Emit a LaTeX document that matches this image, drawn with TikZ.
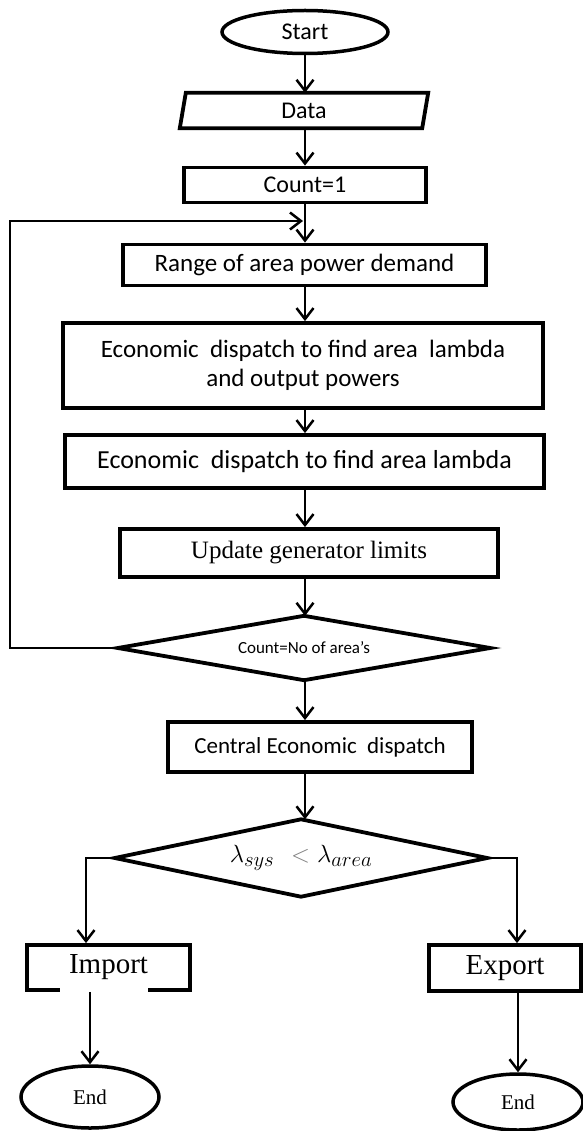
\documentclass[tikz,border=0pt]{standalone}
\usepackage{fontspec}
\setmainfont{Carlito}
\newfontfamily\tnr{Liberation Serif}
\usetikzlibrary{arrows.meta,shapes.geometric}
\begin{document}
\begin{tikzpicture}[x=1pt,y=-1pt,
  box/.style={draw, rectangle, line width=3.8pt, inner sep=0pt, align=center},
  oval/.style={draw, ellipse, line width=3.5pt, inner sep=0pt},
  plain/.style={rectangle, inner sep=0pt, align=center},
  outline/.style={line width=3.8pt, line join=miter},
  arr/.style={line width=2.5pt, -{Straight Barb[length=11pt,width=17pt,line width=2.5pt]}},
]
\useasboundingbox (0,0) rectangle (582,1131);

% nodes
\node[oval, minimum width=166pt, minimum height=43pt, font=\fontsize{24pt}{29pt}\selectfont] (start) at (305,32) {Start};
\node[plain, minimum width=242pt, minimum height=35pt, font=\fontsize{24pt}{29pt}\selectfont] (data) at (304,110.5) {Data};
\draw[outline] ([xshift=3pt]data.north west) -- ([xshift=3pt]data.north east) -- ([xshift=-3pt]data.south east) -- ([xshift=-3pt]data.south west) -- cycle;
\node[box, minimum width=242pt, minimum height=35pt, font=\fontsize{24pt}{29pt}\selectfont] (count) at (305,185) {Count=1};
\node[box, minimum width=363pt, minimum height=41pt, font=\fontsize{25pt}{29pt}\selectfont] (range) at (304.5,265) {Range of area power demand};
\node[box, minimum width=480pt, minimum height=85pt, font=\fontsize{25pt}{29pt}\selectfont] (econa) at (303,365.5) {Economic\ \ dispatch to find area\ \ lambda\\and output powers};
\node[box, minimum width=479pt, minimum height=53pt, font=\fontsize{26pt}{30pt}\selectfont] (econb) at (304.5,461.5) {Economic\ \ dispatch to find area lambda};
\node[box, minimum width=378pt, minimum height=48pt, font=\tnr\fontsize{25pt}{29pt}\selectfont] (update) at (309,553) {Update generator limits};
\node[plain, minimum width=372pt, minimum height=64pt, font=\fontsize{17pt}{20pt}\selectfont] (dia) at (304,648) {\raisebox{-4pt}{Count=No of area's}};
\draw[outline] (dia.west) -- (dia.north) -- (dia.east) -- (dia.south) -- cycle;
\node[box, minimum width=304pt, minimum height=50pt, font=\fontsize{23pt}{28pt}\selectfont] (central) at (320,747) {Central Economic\ \ dispatch};
\node[plain, minimum width=372pt, minimum height=77pt, font=\fontsize{28pt}{32pt}\selectfont] (dib) at (301,858) {\raisebox{-4pt}{$\lambda_{sys}\hspace{10pt}\mathrel{\color{gray}<}\lambda_{area}$}};
\draw[outline] (dib.west) -- (dib.north) -- (dib.east) -- (dib.south) -- cycle;
\node[box, minimum width=163pt, minimum height=45pt, font=\tnr\fontsize{29pt}{33pt}\selectfont] (import) at (108.5,967.5) {Import};
\fill[white] (60,985) rectangle (148,992);
\node[box, minimum width=152pt, minimum height=46pt, font=\tnr\fontsize{29pt}{33pt}\selectfont] (export) at (505,968) {Export};
\node[oval, minimum width=138pt, minimum height=62pt, font=\tnr\fontsize{21pt}{25pt}\selectfont] (endl) at (90,1097) {End};
\node[oval, minimum width=130pt, minimum height=56pt, font=\tnr\fontsize{21pt}{25pt}\selectfont] (endr) at (518,1102) {End};

% helper coordinates
\coordinate (loopx) at (10,0);
\coordinate (loopend) at (303,221);
\coordinate (jl) at (86,0);
\coordinate (jr) at (517,0);

% connectors
\draw[arr] (start.south) -- (start.south |- data.north);
\draw[arr] (count.north |- data.south) -- (count.north);
\draw[arr] (count.south) -- (count.south |- range.north);
\draw[arr] (count.south |- range.south) -- (count.south |- econa.north);
\draw[arr] (count.south |- econa.south) -- (count.south |- econb.north);
\draw[arr] (count.south |- econb.south) -- (count.south |- update.north);
\draw[arr] (count.south |- update.south) -- (count.south |- dia.north);
\draw[arr] (count.south |- dia.south) -- (count.south |- central.north);
\draw[arr] (count.south |- central.south) -- (count.south |- dib.north);
\draw[arr] (dia.west) -- (loopx |- dia.west) -- (loopx |- loopend) -- (loopend);
\draw[arr] (dib.west) -- (jl |- dib.west) -- (jl |- import.north);
\draw[arr] (dib.east) -- (jr |- dib.east) -- (jr |- export.north);
\draw[arr] (endl.north |- import.south) -- (endl.north);
\draw[arr] (endr.north |- export.south) -- (endr.north);
\end{tikzpicture}
\end{document}
